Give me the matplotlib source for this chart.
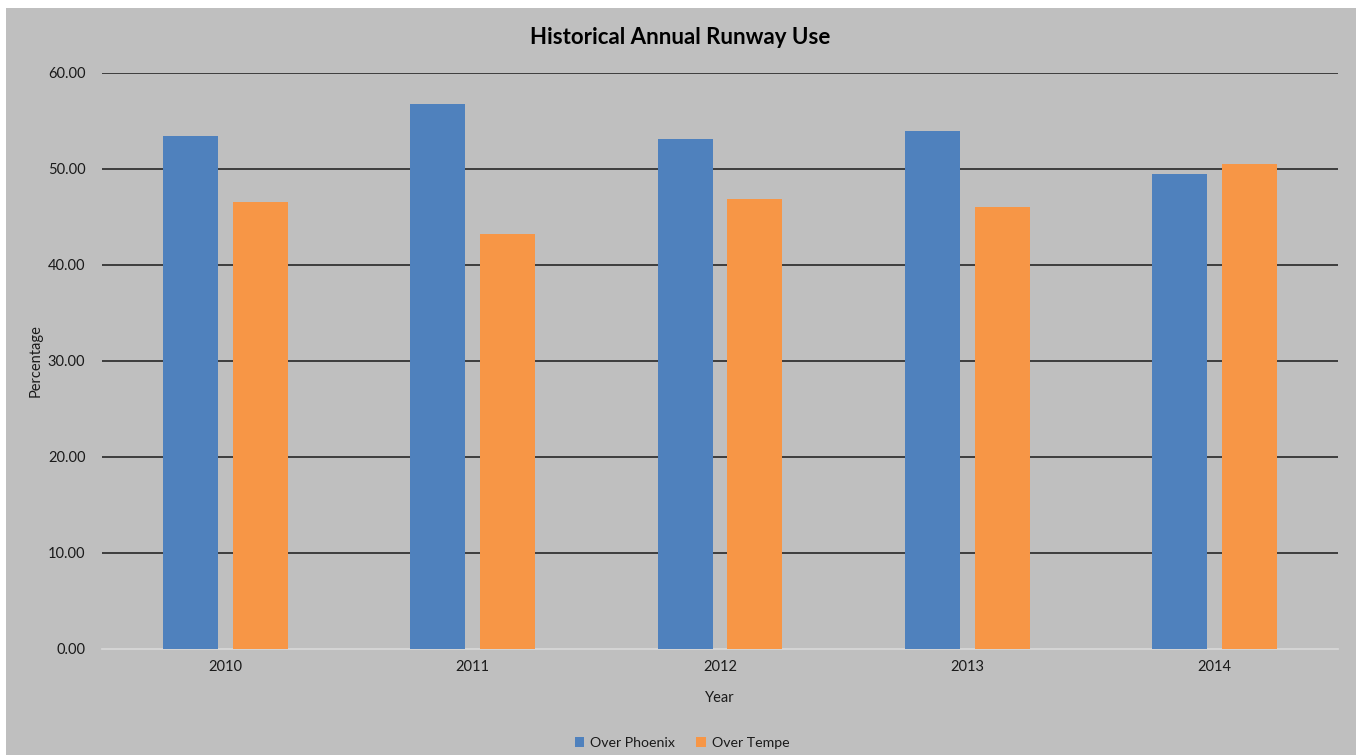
import matplotlib
matplotlib.use("Agg")
import matplotlib.pyplot as plt
from matplotlib.patches import Rectangle
import numpy as np

years = ["2010", "2011", "2012", "2013", "2014"]
over_phoenix = [53.44, 56.77, 53.13, 53.96, 49.50]
over_tempe = [46.56, 43.23, 46.87, 46.04, 50.50]
yticks = [0, 10, 20, 30, 40, 50, 60]

plt.rcParams['font.family'] = ['Lato', 'DejaVu Sans']

fig = plt.figure(figsize=(13.61, 7.55), dpi=100)
fig.patch.set_facecolor('white')
bg = Rectangle((6/1361, 0), 1350/1361, 747/755, transform=fig.transFigure,
               facecolor='#bfbfbf', edgecolor='none', zorder=-10)
fig.patches.append(bg)

ax = fig.add_axes([102/1361, 1-649/755, 1236/1361, 576/755])
ax.set_facecolor('none')
ax.set_zorder(1)
x = np.arange(len(years))
w = 0.2225
gap = 0.06
ax.bar(x - (w+gap)/2, over_phoenix, w, color='#4f81bd', label='Over Phoenix', zorder=3)
ax.bar(x + (w+gap)/2, over_tempe, w, color='#f79646', label='Over Tempe', zorder=3)

ax.set_xlim(-0.5, len(years)-0.5)
ax.set_ylim(0, 60)
ax.set_yticks(yticks)
ax.set_yticklabels([f"{v:.2f}" for v in yticks], fontsize=10.5, color='#1a1a1a')
ax.set_xticks(x)
ax.set_xticklabels(years, fontsize=10.5, color='#1a1a1a')
ax.tick_params(length=0, pad=12)
ax.tick_params(axis='x', pad=8)
for s in ['top', 'right', 'left']:
    ax.spines[s].set_visible(False)
ax.spines['bottom'].set_color('#d9d9d9')
ax.spines['bottom'].set_linewidth(1.2)
for v in yticks[1:]:
    ax.axhline(v, color='#1a1a1a', linewidth=1.1, zorder=1)

ax.set_xlabel('Year', fontsize=10.5, color='#1a1a1a', labelpad=12)
ax.set_ylabel('Percentage', fontsize=10.5, color='#1a1a1a', labelpad=4)

fig.text(680/1361, 1-38/755, 'Historical Annual Runway Use', ha='center', va='center',
         fontsize=16, fontweight='bold', color='black')

leg = fig.legend(loc='center', bbox_to_anchor=(682/1361, 1-743/755), ncol=2, frameon=False,
                 fontsize=10.2, handlelength=0.7, handleheight=0.7, columnspacing=1.5,
                 handletextpad=0.4)
for t in leg.get_texts():
    t.set_color('#1a1a1a')

fig.savefig('out.png', dpi=100, facecolor=fig.get_facecolor())
